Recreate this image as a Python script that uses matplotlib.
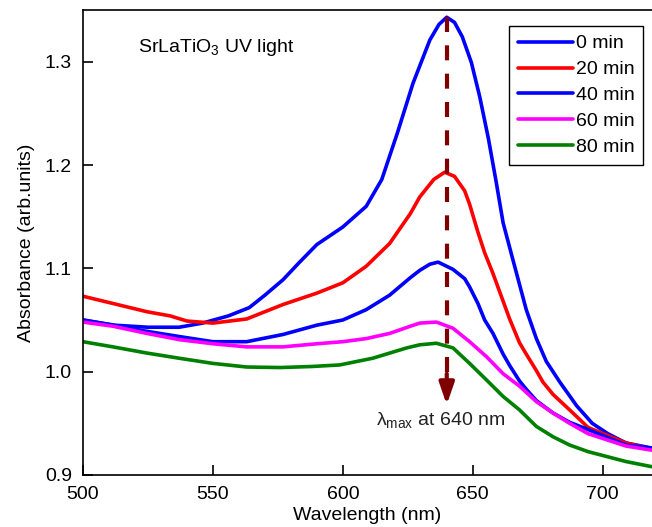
import numpy as np
import matplotlib
matplotlib.use('Agg')
import matplotlib.pyplot as plt

plt.rcParams['font.family'] = ['Liberation Sans', 'DejaVu Sans']
plt.rcParams['mathtext.fontset'] = 'custom'
plt.rcParams['mathtext.rm'] = 'Liberation Sans'
plt.rcParams['mathtext.default'] = 'regular'

# absorbance spectra
wl0 = [500, 512, 525, 537, 546, 556, 564, 570, 577, 583, 590, 600, 609, 615, 621, 627,
       633.5, 637, 640, 643, 646, 649.5, 652.7, 656, 659, 661.7, 665.5, 670.6, 674.5,
       678.3, 683.5, 690, 696, 702, 709, 719]
a0 = [1.050, 1.045, 1.043, 1.043, 1.047, 1.054, 1.062, 1.074, 1.089, 1.105, 1.123, 1.140,
      1.160, 1.186, 1.231, 1.279, 1.321, 1.336, 1.343, 1.338, 1.324, 1.299, 1.266, 1.226,
      1.184, 1.144, 1.108, 1.060, 1.032, 1.010, 0.990, 0.967, 0.950, 0.940, 0.931, 0.926]

wl20 = [500, 511.5, 524.6, 533.5, 540, 550, 563, 577, 590, 600, 609, 618, 626, 629.6,
        635, 639.2, 643, 646.9, 648.8, 652, 654.6, 657.8, 664.2, 668, 670.6, 674.5, 677,
        680.9, 687.3, 694.4, 709, 719]
a20 = [1.073, 1.066, 1.058, 1.054, 1.049, 1.047, 1.051, 1.065, 1.076, 1.086, 1.102, 1.124,
       1.153, 1.169, 1.186, 1.193, 1.189, 1.175, 1.162, 1.135, 1.115, 1.095, 1.051, 1.028,
       1.017, 1.001, 0.990, 0.978, 0.963, 0.946, 0.931, 0.925]

wl40 = [500, 511.5, 524.6, 537, 550, 563, 577, 590, 600, 609, 618, 626, 629.6, 633.5,
        636.7, 642.4, 646.9, 648.8, 652, 654.6, 657.8, 661.7, 664.2, 668, 670.6, 674.5,
        680.9, 687.3, 694.4, 709, 719]
a40 = [1.050, 1.045, 1.039, 1.034, 1.029, 1.029, 1.036, 1.045, 1.050, 1.060, 1.074, 1.091,
       1.098, 1.104, 1.106, 1.099, 1.090, 1.082, 1.066, 1.050, 1.037, 1.017, 1.006, 0.991,
       0.983, 0.972, 0.960, 0.951, 0.944, 0.929, 0.926]

wl60 = [500, 511.5, 524.6, 537, 550, 563, 577, 590, 600, 609, 618, 626, 629.6, 636,
        642.4, 648.8, 655.3, 661.7, 668, 674.5, 680.9, 687.3, 694.4, 709, 719]
a60 = [1.048, 1.044, 1.037, 1.031, 1.027, 1.024, 1.024, 1.027, 1.029, 1.032, 1.037, 1.044,
       1.047, 1.048, 1.042, 1.029, 1.0145, 0.998, 0.986, 0.971, 0.960, 0.950, 0.940, 0.928,
       0.924]

wl80 = [500, 511.5, 524.6, 537, 550, 563, 576, 588, 598.8, 611.5, 624.6, 629.6, 636,
        642.4, 648.8, 655.3, 661.7, 668, 674.5, 680.9, 687.3, 694.4, 709, 719]
a80 = [1.029, 1.024, 1.018, 1.013, 1.008, 1.0045, 1.004, 1.005, 1.0065, 1.013, 1.023,
       1.026, 1.0275, 1.023, 1.008, 0.992, 0.976, 0.963, 0.947, 0.937, 0.929, 0.9226,
       0.913, 0.908]

labels = ['0 min', '20 min', '40 min', '60 min', '80 min']
colors = ['#0000ff', '#ff0000', '#0000ff', '#ff00ff', '#008000']

arrow_x = 640
arrow_top = 1.343
arrow_bottom = 0.968

fig = plt.figure(figsize=(6.52, 5.27), dpi=100)
ax = fig.add_axes([83/652, 52/527, 1 - 83/652, 465/527])

series = [(wl0, a0), (wl20, a20), (wl40, a40), (wl60, a60), (wl80, a80)]
for (x, y), c, lab in zip(series, colors, labels):
    ax.plot(x, y, color=c, lw=2.6, label=lab, solid_capstyle='round')

# lambda max marker
dark = '#7f0000'
ax.plot([arrow_x, arrow_x], [arrow_top, arrow_bottom + 0.03], color=dark, lw=3,
        ls=(0, (3.6, 3.2)))
ax.annotate('', xy=(arrow_x, arrow_bottom), xytext=(arrow_x, arrow_bottom + 0.03),
            arrowprops=dict(arrowstyle='-|>,head_length=1.3,head_width=0.45',
                            color=dark, lw=3, shrinkA=0, shrinkB=0))
ax.text(637.5, 0.953, r'$\lambda_{max}$ at 640 nm', fontsize=14, ha='center',
        va='center', color='#222222')
ax.text(521.2, 1.314, r'SrLaTiO$_3$ UV light', fontsize=14, ha='left', va='center')

ax.set_xlim(500, 719)
ax.set_ylim(0.9, 1.35)
ax.set_xticks([500, 550, 600, 650, 700])
ax.set_yticks([0.9, 1.0, 1.1, 1.2, 1.3])
ax.tick_params(direction='in', length=7, width=1.2, labelsize=14)
ax.tick_params(axis='x', pad=8)
ax.tick_params(axis='y', pad=8)
for s in ['left', 'bottom', 'top']:
    ax.spines[s].set_linewidth(1.2)
ax.spines['right'].set_visible(False)
ax.set_xlabel('Wavelength (nm)', fontsize=14, labelpad=3)
ax.set_ylabel('Absorbance (arb.units)', fontsize=14, labelpad=7)

leg = ax.legend(loc='upper right', bbox_to_anchor=(643/652, 1 - 26/527),
                bbox_transform=fig.transFigure, borderaxespad=0, fontsize=14,
                handlelength=2.8, labelspacing=0.43, fancybox=False,
                edgecolor='black', framealpha=1, handletextpad=0.15,
                borderpad=0.45)
leg.get_frame().set_linewidth(1.0)

fig.savefig('out.png', dpi=100)
